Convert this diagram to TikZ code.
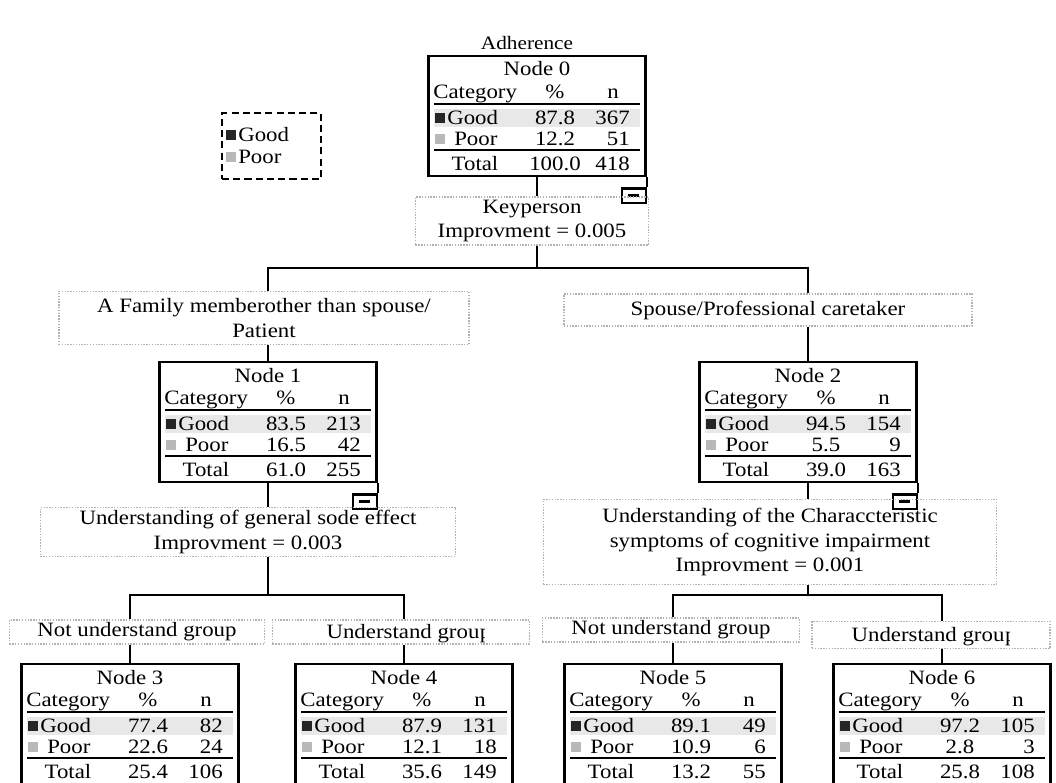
\documentclass[tikz,border=0pt]{standalone}
\usepackage{fontspec}
\setmainfont{Liberation Serif}[FakeStretch=1.12]

\tikzset{
  conn/.style={line width=1.9pt},
  catbox/.style={draw,line width=1.8pt,minimum width=5.425cm,minimum height=3cm,inner sep=0pt},
  minusbox/.style={draw,line width=1.6pt,minimum width=0.6cm,minimum height=0.36cm,inner sep=0pt},
  rulel/.style={line width=1.6pt},
  lbl/.style={draw=gray!60,densely dotted,line width=1pt,align=center,inner sep=0pt},
  sqg/.style={fill=black!85,minimum size=0.23cm,inner sep=0pt},
  sqp/.style={fill=gray!55,minimum size=0.23cm,inner sep=0pt},
  tx/.style={inner sep=0pt}
}

% table box of one tree node: name, top centre, number, good %, good n, poor %, poor n, total %, total n
\newcommand{\catnode}[9]{%
\begin{scope}[shift={#2}]
\fill[gray!18] (-103,53) rectangle (103,71);
\node[catbox] (#1) at (0,60) {};
\node[tx,anchor=base] (#1ttl) at (0,20) {Node #3};
\node[tx,anchor=base west] (#1cat) at (-104,42) {Category};
\node[tx,anchor=base] (#1pc) at (18,42) {\%};
\node[tx,anchor=base] (#1nn) at (76,42) {n};
\draw[rulel] (-103,48) -- (103,48);
\node[sqg] (#1gs) at (-97,62) {};
\node[tx,anchor=base west] (#1g) at (-90,68) {Good};
\node[tx,anchor=base] (#1gp) at (18,68) {#4};
\node[tx,anchor=base east] (#1gn) at (93,68) {#5};
\node[sqp] (#1ps) at (-97,83) {};
\node[tx,anchor=base west] (#1p) at (-83,89) {Poor};
\node[tx,anchor=base] (#1pp) at (18,89) {#6};
\node[tx,anchor=base east] (#1pn) at (93,89) {#7};
\draw[rulel] (-103,94) -- (103,94);
\node[tx,anchor=base] (#1tot) at (-62,114) {Total};
\node[tx,anchor=base] (#1tp) at (18,114) {#8};
\node[tx,anchor=base east] (#1tn) at (93,114) {#9};
\end{scope}}

% collapse box under a node
\newcommand{\minusmark}[1]{%
\node[minusbox,anchor=north east] (#1m) at ([yshift=-0.25cm]#1.south east) {\rule{0.28cm}{1.8pt}};
\draw[line width=1.6pt] (#1.south east) -- (#1m.north east);}

\begin{document}
\begin{tikzpicture}[x=0.025cm,y=-0.025cm,font=\fontsize{14.5}{17.5}\selectfont]
\clip (0,0) rectangle (1056,782);
\fill[white] (0,0) rectangle (1056,782);

\node[tx,font=\fontsize{13.5}{15}\selectfont] (title) at (527,43) {Adherence};

% legend
\node[draw,dash pattern=on 5pt off 3pt,line width=1.6pt,minimum width=2.475cm,minimum height=1.65cm] (lg) at (271.5,146) {};
\node[sqg] (lgg) at (231,135) {};
\node[tx,anchor=base west] (lgt1) at (238,141) {Good};
\node[sqp] (lgp) at (231,157) {};
\node[tx,anchor=base west] (lgt2) at (238,163) {Poor};

% tree nodes
\catnode{n0}{(537,56)}{0}{87.8}{367}{12.2}{51}{100.0}{418}
\catnode{n1}{(268,362)}{1}{83.5}{213}{16.5}{42}{61.0}{255}
\catnode{n2}{(808,362)}{2}{94.5}{154}{5.5}{9}{39.0}{163}
\catnode{n3}{(130,664)}{3}{77.4}{82}{22.6}{24}{25.4}{106}
\catnode{n4}{(404,664)}{4}{87.9}{131}{12.1}{18}{35.6}{149}
\catnode{n5}{(673,664)}{5}{89.1}{49}{10.9}{6}{13.2}{55}
\catnode{n6}{(942,664)}{6}{97.2}{105}{2.8}{3}{25.8}{108}
\minusmark{n0}
\minusmark{n1}
\minusmark{n2}

% split labels
\node[lbl,minimum width=5.825cm,minimum height=1.2cm] (k0) at (532,221) {Keyperson\\Improvment = 0.005};
\node[lbl,minimum width=10.25cm,minimum height=1.325cm] (l1) at (264,318) {A Family memberother than spouse/\\Patient};
\node[lbl,minimum width=10.2cm,minimum height=0.8cm] (r1) at (768,310) {Spouse/Professional caretaker};
\node[lbl,minimum width=10.375cm,minimum height=1.225cm] (s1) at (248,532) {Understanding of general sode effect\\Improvment = 0.003};
\node[lbl,minimum width=11.325cm,minimum height=2.125cm] (s2) at (770,542) {Understanding of the Characcteristic\\symptoms of cognitive impairment\\Improvment = 0.001};
\node[lbl,minimum width=6.375cm,minimum height=0.6cm] (a3) at (137,632) {Not understand group};
\node[lbl,minimum width=6.425cm,minimum height=0.6cm] (a4) at (401,632) {};
\node[lbl,minimum width=6.425cm,minimum height=0.6cm] (a5) at (671,630) {Not understand group};
\node[lbl,minimum width=5.95cm,minimum height=0.68cm] (a6) at (931,635) {};

% "group" printed with its p cut off
\node[tx,anchor=base] (a4t) at (403,638) {Understand grou};
\begin{scope}
\clip (a4t.base east) ++(0,8) rectangle ++(5,-24);
\node[tx,anchor=base west] (a4p) at (a4t.base east) {p};
\end{scope}
\node[tx,anchor=base] (a6t) at (928,641) {Understand grou};
\begin{scope}
\clip (a6t.base east) ++(0,8) rectangle ++(5,-24);
\node[tx,anchor=base west] (a6p) at (a6t.base east) {p};
\end{scope}

% connectors
\coordinate (j0) at (537,268);
\coordinate (j1) at (268,595);
\coordinate (j2) at (808,595);
\draw[conn] (n0.south) -- (n0.south |- k0.north);
\draw[conn] (n0.south |- k0.south) -- (j0);
\draw[conn] (n1.north |- l1.north) -- (n1.north |- j0) -- (n2.north |- j0) -- (n2.north |- r1.north);
\draw[conn] (n1.north |- l1.south) -- (n1.north);
\draw[conn] (n2.north |- r1.south) -- (n2.north);
\draw[conn] (n1.south) -- (n1.south |- s1.north);
\draw[conn] (n2.south) -- (n2.south |- s2.north);
\draw[conn] (n1.south |- s1.south) -- (j1);
\draw[conn] (n2.south |- s2.south) -- (j2);
\draw[conn] (n3.north |- a3.north) -- (n3.north |- j1) -- (n4.north |- j1) -- (n4.north |- a4.north);
\draw[conn] (n5.north |- a5.north) -- (n5.north |- j2) -- (n6.north |- j2) -- (n6.north |- a6.north);
\draw[conn] (n3.north |- a3.south) -- (n3.north);
\draw[conn] (n4.north |- a4.south) -- (n4.north);
\draw[conn] (n5.north |- a5.south) -- (n5.north);
\draw[conn] (n6.north |- a6.south) -- (n6.north);
\end{tikzpicture}
\end{document}
